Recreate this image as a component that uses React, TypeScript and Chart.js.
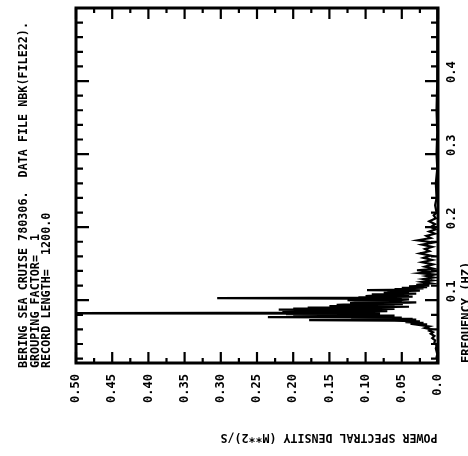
import React, { useEffect, useRef } from "react";
import { Chart, registerables } from "chart.js";

Chart.register(...registerables);

// Frequency (Hz) of each spectral estimate
const FREQ = [
  0.014, 0.018, 0.022, 0.026, 0.030, 0.034, 0.038, 0.042, 0.045, 0.048,
  0.051, 0.054, 0.056, 0.058, 0.060, 0.062, 0.064, 0.066, 0.067, 0.068,
  0.069, 0.070, 0.071, 0.072, 0.0727, 0.0735, 0.074, 0.0745, 0.075, 0.0755,
  0.076, 0.0767, 0.0775, 0.078, 0.0785, 0.079, 0.0795, 0.080, 0.0805, 0.081,
  0.0815, 0.0822, 0.083, 0.0835, 0.084, 0.0845, 0.085, 0.0855, 0.086, 0.0865,
  0.087, 0.0875, 0.088, 0.0885, 0.089, 0.0895, 0.090, 0.0905, 0.091, 0.0915,
  0.092, 0.0925, 0.093, 0.0935, 0.094, 0.0945, 0.095, 0.0955, 0.096, 0.0965,
  0.097, 0.0975, 0.098, 0.0985, 0.099, 0.0995, 0.100, 0.1005, 0.101, 0.1015,
  0.102, 0.1027, 0.1035, 0.104, 0.1045, 0.105, 0.1055, 0.106, 0.1065, 0.107,
  0.1075, 0.108, 0.109, 0.110, 0.111, 0.112, 0.113, 0.1137, 0.1145, 0.115,
  0.116, 0.117, 0.118, 0.119, 0.120, 0.121, 0.123, 0.125, 0.127, 0.129,
  0.131, 0.133, 0.135, 0.137, 0.139, 0.141, 0.143, 0.146, 0.149, 0.152,
  0.155, 0.158, 0.161, 0.164, 0.167, 0.170, 0.173, 0.176, 0.179, 0.182,
  0.185, 0.188, 0.191, 0.194, 0.197, 0.200, 0.204, 0.208, 0.212, 0.216,
  0.220, 0.230, 0.240, 0.260, 0.280, 0.300, 0.330, 0.360, 0.400, 0.440,
  0.480, 0.500,
];

// Power spectral density at each frequency
const PSD = [
  0.002, 0.001, 0.002, 0.001, 0.002, 0.003, 0.002, 0.005, 0.004, 0.008,
  0.005, 0.010, 0.007, 0.012, 0.009, 0.018, 0.012, 0.026, 0.015, 0.038,
  0.020, 0.045, 0.025, 0.060, 0.178, 0.030, 0.080, 0.035, 0.090, 0.120,
  0.050, 0.235, 0.070, 0.170, 0.080, 0.060, 0.200, 0.090, 0.160, 0.210,
  0.080, 0.620, 0.100, 0.180, 0.215, 0.090, 0.070, 0.190, 0.110, 0.170,
  0.220, 0.100, 0.060, 0.200, 0.090, 0.150, 0.180, 0.080, 0.040, 0.140,
  0.150, 0.060, 0.070, 0.140, 0.130, 0.050, 0.050, 0.120, 0.120, 0.040,
  0.030, 0.100, 0.110, 0.050, 0.060, 0.115, 0.125, 0.050, 0.040, 0.110,
  0.115, 0.305, 0.050, 0.110, 0.060, 0.035, 0.100, 0.095, 0.040, 0.045,
  0.090, 0.090, 0.030, 0.075, 0.040, 0.070, 0.025, 0.098, 0.030, 0.060,
  0.020, 0.050, 0.015, 0.040, 0.012, 0.030, 0.010, 0.022, 0.008, 0.020,
  0.006, 0.016, 0.005, 0.025, 0.008, 0.029, 0.006, 0.018, 0.007, 0.022,
  0.008, 0.020, 0.010, 0.025, 0.012, 0.018, 0.008, 0.022, 0.006, 0.028,
  0.010, 0.016, 0.004, 0.012, 0.003, 0.010, 0.004, 0.012, 0.003, 0.006,
  0.002, 0.004, 0.002, 0.003, 0.001, 0.002, 0.001, 0.002, 0.001, 0.001,
  0.001, 0.001,
];

const PSD_TICKS = [0, 0.05, 0.1, 0.15, 0.2, 0.25, 0.3, 0.35, 0.4, 0.45, 0.5];
const PSD_LABELS = ["0.0", "0.05", "0.10", "0.15", "0.20", "0.25", "0.30", "0.35", "0.40", "0.45", "0.50"];
const PSD_MINOR = [0.025, 0.075, 0.125, 0.175, 0.225, 0.275, 0.325, 0.375, 0.425, 0.475];

const FREQ_TICKS = [0.1, 0.2, 0.3, 0.4];
const FREQ_LABELS = ["0.1", "0.2", "0.3", "0.4"];
const FREQ_MINOR = [
  0.02, 0.04, 0.06, 0.08, 0.12, 0.14, 0.16, 0.18, 0.22, 0.24, 0.26, 0.28,
  0.32, 0.34, 0.36, 0.38, 0.42, 0.44, 0.46, 0.48,
];

const FREQ_MIN = 0.014;
const FREQ_MAX = 0.5;
const PSD_MIN = 0;
const PSD_MAX = 0.5;

const HEADER_LINES = [
  "BERING SEA CRUISE 780306.  DATA FILE NBK(FILE22).",
  "GROUPING FACTOR=  1",
  "RECORD LENGTH=  1200.0",
];
const PSD_TITLE = "POWER SPECTRAL DENSITY (M**2)/S";
const FREQ_TITLE = "FREQUENCY (HZ)";

const FONT = "bold 12px 'DejaVu Sans Mono'";

const decorPlugin = {
  id: "decor",
  afterDraw(chart: any) {
    const { ctx, chartArea, scales } = chart;
    const { left, right, top, bottom } = chartArea;
    const xs = scales.x;
    const ys = scales.y;
    ctx.save();
    ctx.strokeStyle = "#000";
    ctx.fillStyle = "#000";
    ctx.lineCap = "butt";

    // frame
    ctx.lineWidth = 3;
    ctx.strokeRect(left, top, right - left, bottom - top);

    // ticks
    ctx.lineWidth = 2.2;
    const vTick = (v: number, len: number) => {
      const px = xs.getPixelForValue(v);
      ctx.beginPath();
      ctx.moveTo(px, bottom);
      ctx.lineTo(px, bottom - len);
      ctx.moveTo(px, top);
      ctx.lineTo(px, top + len);
      ctx.stroke();
    };
    const hTick = (v: number, len: number) => {
      const py = ys.getPixelForValue(v);
      ctx.beginPath();
      ctx.moveTo(left, py);
      ctx.lineTo(left + len, py);
      ctx.moveTo(right, py);
      ctx.lineTo(right - len, py);
      ctx.stroke();
    };
    PSD_TICKS.forEach((v) => vTick(v, 11));
    PSD_MINOR.forEach((v) => vTick(v, 5));
    FREQ_TICKS.forEach((v) => hTick(v, 13));
    FREQ_MINOR.forEach((v) => hTick(v, 7));

    ctx.font = FONT;
    ctx.textBaseline = "middle";

    // PSD tick labels (rotated, reading upwards, ending near the axis)
    PSD_TICKS.forEach((v, i) => {
      const px = xs.getPixelForValue(v);
      ctx.save();
      ctx.translate(px, bottom + 11);
      ctx.rotate(-Math.PI / 2);
      ctx.textAlign = "right";
      ctx.fillText(PSD_LABELS[i], 0, 0);
      ctx.restore();
    });

    // frequency tick labels on the right
    FREQ_TICKS.forEach((v, i) => {
      const py = ys.getPixelForValue(v);
      ctx.save();
      ctx.translate(right + 14, py + 2);
      ctx.rotate(-Math.PI / 2);
      ctx.textAlign = "left";
      ctx.fillText(FREQ_LABELS[i], 0, 0);
      ctx.restore();
    });

    // PSD axis title, upside down
    ctx.save();
    ctx.translate(329, bottom + 74);
    ctx.rotate(Math.PI);
    ctx.textAlign = "center";
    ctx.fillText(PSD_TITLE, 0, 0, 217);
    ctx.restore();

    // frequency axis title
    ctx.save();
    ctx.translate(right + 29, bottom);
    ctx.rotate(-Math.PI / 2);
    ctx.textAlign = "left";
    ctx.fillText(FREQ_TITLE, 0, 0);
    ctx.restore();

    // header block on the left
    const lineX = [24, 35.5, 47];
    const startY = 368;
    HEADER_LINES.forEach((t, i) => {
      ctx.save();
      ctx.translate(lineX[i], startY);
      ctx.rotate(-Math.PI / 2);
      ctx.textAlign = "left";
      const w = t.length * 7.06;
      ctx.fillText(t, 0, 0, w);
      ctx.restore();
    });

    ctx.restore();
  },
};

export default function App() {
  const ref = useRef<HTMLCanvasElement | null>(null);
  useEffect(() => {
    if (!ref.current) return;
    const chart = new Chart(ref.current, {
      type: "scatter",
      data: {
        datasets: [
          {
            data: FREQ.map((f, i) => ({ x: PSD[i], y: f })),
            showLine: true,
            borderColor: "#000",
            borderWidth: 2.2,
            pointRadius: 0,
            tension: 0,
          },
        ],
      },
      options: {
        animation: false,
        responsive: false,
        devicePixelRatio: 1,
        layout: { padding: { left: 76, right: 30, top: 8, bottom: 93 } },
        plugins: { legend: { display: false }, tooltip: { enabled: false } },
        scales: {
          x: { type: "linear", display: false, min: PSD_MIN, max: PSD_MAX, reverse: true },
          y: { type: "linear", display: false, min: FREQ_MIN, max: FREQ_MAX },
        },
      },
      plugins: [decorPlugin],
    });
    return () => chart.destroy();
  }, []);
  return (
    <div style={{ position: "absolute", left: 0, top: 0, width: 468, height: 456, background: "#fff" }}>
      <canvas ref={ref} width={468} height={456} style={{ display: "block" }} />
    </div>
  );
}
